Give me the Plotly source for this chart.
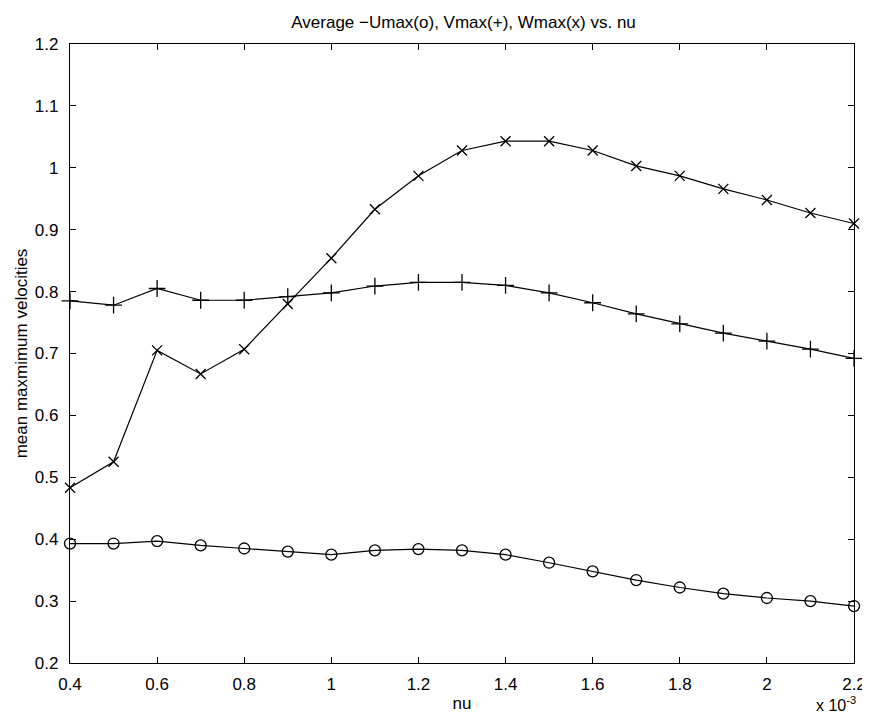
import plotly.graph_objects as go

# nu values (in units of 1e-3)
nu = [0.4, 0.5, 0.6, 0.7, 0.8, 0.9, 1.0, 1.1, 1.2, 1.3, 1.4, 1.5, 1.6, 1.7, 1.8, 1.9, 2.0, 2.1, 2.2]

# averaged maximum velocities
u_max = [0.393, 0.393, 0.397, 0.390, 0.385, 0.380, 0.375, 0.382, 0.384, 0.382, 0.375,
         0.362, 0.348, 0.334, 0.322, 0.312, 0.305, 0.300, 0.292]
v_max = [0.785, 0.778, 0.805, 0.786, 0.786, 0.792, 0.798, 0.809, 0.815, 0.815, 0.810,
         0.798, 0.782, 0.764, 0.748, 0.733, 0.720, 0.707, 0.692]
w_max = [0.483, 0.525, 0.705, 0.667, 0.707, 0.780, 0.854, 0.933, 0.987, 1.028, 1.043,
         1.043, 1.028, 1.003, 0.987, 0.966, 0.948, 0.927, 0.910]

x_ticks = [0.4, 0.6, 0.8, 1.0, 1.2, 1.4, 1.6, 1.8, 2.0, 2.2]
x_labels = ["0.4", "0.6", "0.8", "1", "1.2", "1.4", "1.6", "1.8", "2", "2.2"]
y_ticks = [0.2, 0.3, 0.4, 0.5, 0.6, 0.7, 0.8, 0.9, 1.0, 1.1, 1.2]
y_labels = ["0.2", "0.3", "0.4", "0.5", "0.6", "0.7", "0.8", "0.9", "1", "1.1", "1.2"]

fig = go.Figure()

series = [
    (u_max, "circle-open", 11),
    (v_max, "cross-thin-open", 12),
    (w_max, "x-thin-open", 10),
]
for vals, sym, size in series:
    fig.add_trace(go.Scatter(
        x=nu, y=vals, mode="lines+markers",
        line=dict(color="black", width=1.2),
        marker=dict(symbol=sym, size=size, color="black",
                    line=dict(color="black", width=1.3)),
        cliponaxis=False, showlegend=False,
    ))

axis_style = dict(
    showline=True, linecolor="black", linewidth=1.2, mirror="ticks",
    ticks="inside", ticklen=6, tickcolor="black", showgrid=False, zeroline=False,
    tickfont=dict(size=17, color="black"),
)

fig.update_xaxes(range=[0.4, 2.2], tickvals=x_ticks, ticktext=x_labels,
                 ticklabelstandoff=5,
                 title=dict(text="nu", font=dict(size=17, color="black"), standoff=4),
                 **axis_style)
fig.update_yaxes(range=[0.2, 1.2], tickvals=y_ticks, ticktext=y_labels,
                 ticklabelstandoff=7,
                 title=dict(text="mean maxmimum velocities", font=dict(size=17, color="black"),
                            standoff=2),
                 **axis_style)

# exponent note under the right end of the x axis
fig.add_annotation(text="x 10<sup>-3</sup>", xref="paper", yref="paper",
                   x=1.005, y=-0.086, xanchor="right", yanchor="bottom",
                   showarrow=False, font=dict(size=16, color="black"))

fig.update_layout(
    width=870, height=713,
    margin=dict(l=62, r=17, t=36, b=56),
    paper_bgcolor="white", plot_bgcolor="white",
    font=dict(family="Liberation Sans, Arial, sans-serif", color="black"),
    title=dict(text="Average \u2212Umax(o), Vmax(+), Wmax(x) vs. nu",
               x=0.502, xref="paper", xanchor="center", y=0.980, yanchor="middle",
               font=dict(size=17, color="black")),
)

fig.write_html("out.html")
